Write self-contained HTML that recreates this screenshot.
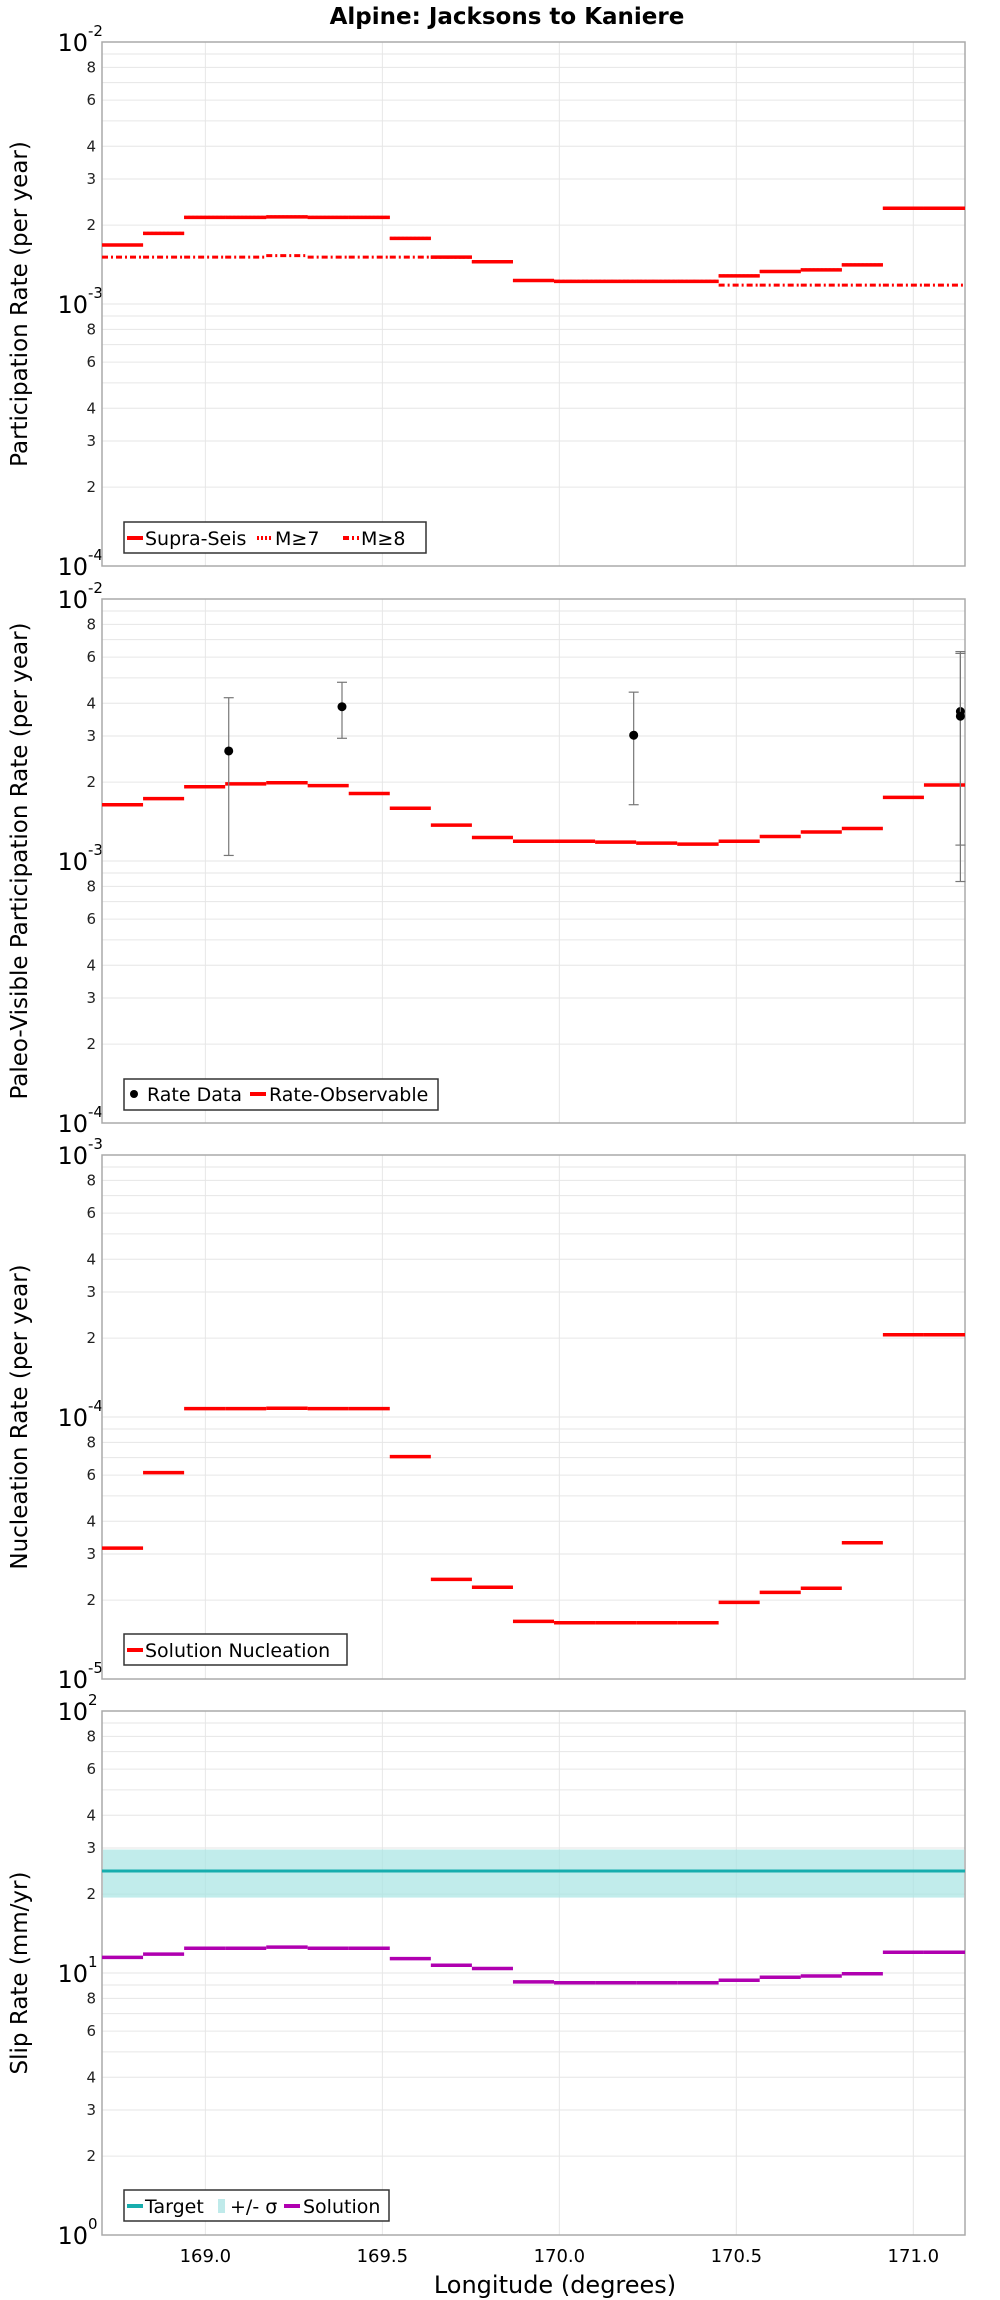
<!DOCTYPE html>
<html><head><meta charset="utf-8"><style>
html,body{margin:0;padding:0;background:#fff;}
svg{display:block;font-family:"DejaVu Sans","Liberation Sans",sans-serif;}
</style></head><body>
<svg id="chart" width="1000" height="2300" viewBox="0 0 1000 2300" xmlns="http://www.w3.org/2000/svg">
<text x="507" y="24" font-size="23" font-weight="bold" text-anchor="middle">Alpine: Jacksons to Kaniere</text>
<g id="layer"></g>
</svg>
<script>
// ---- data ----
const binEdges = [168.708,168.824,168.940,169.056,169.172,169.289,169.405,169.521,169.637,169.753,169.869,169.985,170.101,170.217,170.333,170.450,170.566,170.682,170.798,170.914,171.030,171.146];
const xTicks = [169.0,169.5,170.0,170.5,171.0];
const xTickLabels = ["169.0","169.5","170.0","170.5","171.0"];
const supraSeis = [1.68e-3,1.86e-3,2.14e-3,2.14e-3,2.15e-3,2.14e-3,2.14e-3,1.78e-3,1.51e-3,1.45e-3,1.23e-3,1.22e-3,1.22e-3,1.22e-3,1.22e-3,1.28e-3,1.33e-3,1.35e-3,1.41e-3,2.32e-3,2.32e-3];
const m7 = [1.68e-3,1.86e-3,2.14e-3,2.14e-3,2.15e-3,2.14e-3,2.14e-3,1.78e-3,1.51e-3,1.45e-3,1.23e-3,1.22e-3,1.22e-3,1.22e-3,1.22e-3,1.28e-3,1.33e-3,1.35e-3,1.41e-3,2.32e-3,2.32e-3];
const m8 = [1.51e-3,1.51e-3,1.51e-3,1.51e-3,1.53e-3,1.51e-3,1.51e-3,1.51e-3,1.51e-3,1.45e-3,1.23e-3,1.22e-3,1.22e-3,1.22e-3,1.22e-3,1.18e-3,1.18e-3,1.18e-3,1.18e-3,1.18e-3,1.18e-3];
const rateObservable = [1.64e-3,1.73e-3,1.92e-3,1.97e-3,1.99e-3,1.94e-3,1.81e-3,1.59e-3,1.37e-3,1.23e-3,1.19e-3,1.19e-3,1.18e-3,1.17e-3,1.16e-3,1.19e-3,1.24e-3,1.29e-3,1.33e-3,1.75e-3,1.95e-3];
const dataLon = [169.066,169.386,170.210,171.133,171.133];
const dataRate = [2.63e-3,3.88e-3,3.02e-3,3.72e-3,3.57e-3];
const dataLow = [1.05e-3,2.94e-3,1.64e-3,1.15e-3,8.35e-4];
const dataHigh = [4.20e-3,4.81e-3,4.41e-3,6.30e-3,6.20e-3];
const nucleation = [3.16e-5,6.13e-5,1.076e-4,1.076e-4,1.08e-4,1.076e-4,1.076e-4,7.06e-5,2.40e-5,2.24e-5,1.66e-5,1.64e-5,1.64e-5,1.64e-5,1.64e-5,1.96e-5,2.14e-5,2.22e-5,3.31e-5,2.06e-4,2.06e-4];
const targetSlip = [24.5];
const targetLow = [19.4];
const targetHigh = [29.6];
const slipSolution = [11.47,11.8,12.43,12.43,12.56,12.43,12.43,11.35,10.71,10.4,9.25,9.18,9.18,9.18,9.18,9.38,9.63,9.74,9.93,12.0,12.0];

// ---- layout ----
const NS = "http://www.w3.org/2000/svg";
const layer = document.getElementById("layer");
const X0 = 102, X1 = 965, H = 524;
const panelTops = [42, 599, 1155, 1711];
const lonMin = 168.708, lonMax = 171.146;
function xs(lon){ return X0 + (lon - lonMin) / (lonMax - lonMin) * (X1 - X0); }
function mk(tag, attrs, parent){ const e = document.createElementNS(NS, tag); for (const k in attrs) e.setAttribute(k, attrs[k]); (parent||layer).appendChild(e); return e; }

function makeY(top, lo, hi){ return v => top + H - (Math.log10(v) - lo) / (hi - lo) * H; }

function drawPanel(idx, lo, hi, title, name){
  const top = panelTops[idx];
  const g = mk("g", {});
  
  
  const y = makeY(top, lo, hi);
  for (let d = lo; d < hi; d++){
    for (let m = 1; m <= 9; m++){
      const v = m * Math.pow(10, d);
      const yy = y(v);
      const gl = mk("line", {x1:X0, x2:X1, y1:yy, y2:yy, stroke:"#e6e6e6", "stroke-width":1}, g);
      
      
      if (m === 1){
        const t = mk("text", {x:88, y:yy+9, "font-size":24, "text-anchor":"end"}, g);
        t.textContent = "10";
        
        
        const s = mk("text", {x:88, y:yy-6, "font-size":15, "text-anchor":"start"}, g);
        s.textContent = String(d);
        
        
      } else if ([2,3,4,6,8].includes(m)){
        const t = mk("text", {x:96, y:yy+5, "font-size":15, "text-anchor":"end", fill:"#222"}, g);
        t.textContent = String(m);
        
        
      }
    }
  }
  const tt = mk("text", {x:88, y:top+9, "font-size":24, "text-anchor":"end"}, g);
  tt.textContent = "10";
  
  
  const ts = mk("text", {x:88, y:top-6, "font-size":15}, g);
  ts.textContent = String(hi);
  
  
  xTicks.forEach(v => {
    const gl = mk("line", {x1:xs(v), x2:xs(v), y1:top, y2:top+H, stroke:"#e6e6e6", "stroke-width":1}, g);
    
    
  });
  const fr = mk("rect", {x:X0, y:top, width:X1-X0, height:H, fill:"none", stroke:"#aaa", "stroke-width":1.5}, g);
  
  
  const cy = top + H/2;
  const at = mk("text", {x:0, y:0, "font-size":23, "text-anchor":"middle", transform:"translate(27," + cy + ") rotate(-90)"}, g);
  at.textContent = title;
  
  
  return {g, y};
}

function steps(g, y, vals, color, name, dash, width){
  vals.forEach((v, i) => {
    const l = mk("line", {x1:xs(binEdges[i]), x2:xs(binEdges[i+1]), y1:y(v), y2:y(v), stroke:color, "stroke-width":width||3.5}, g);
    if (dash) l.setAttribute("stroke-dasharray", dash);
    
    
  });
}

function legend(g, x, yTop, w, name){
  const r = mk("rect", {x:x, y:yTop, width:w, height:31, fill:"#fff", stroke:"#333", "stroke-width":1.5}, g);
  
  
}
function legText(g, x, y, s){
  const t = mk("text", {x:x, y:y, "font-size":19}, g);
  t.textContent = s;
  
  
}
function legLine(g, x, y, color, dash, w){
  const l = mk("line", {x1:x, x2:x+w, y1:y, y2:y, stroke:color, "stroke-width":4}, g);
  if (dash) l.setAttribute("stroke-dasharray", dash);
  
  
}

// Panel 1
{
  const {g, y} = drawPanel(0, -4, -2, "Participation Rate (per year)", "participation");
  steps(g, y, supraSeis, "#ff0000", "supra-seis");
  steps(g, y, m7, "#ff0000", "m7", "2,2", 3);
  steps(g, y, m8, "#ff0000", "m8", "6,3,2,3", 3);
  legend(g, 124, 522, 302, "legend");
  const ly = 538;
  legLine(g, 127, ly, "#ff0000", null, 16); legText(g, 145, ly+7, "Supra-Seis");
  legLine(g, 257, ly, "#ff0000", "2,2", 16); legText(g, 275, ly+7, "M≥7");
  legLine(g, 343, ly, "#ff0000", "6,3,2,3", 16); legText(g, 361, ly+7, "M≥8");
}
// Panel 2
{
  const {g, y} = drawPanel(1, -4, -2, "Paleo-Visible Participation Rate (per year)", "paleo-visible");
  steps(g, y, rateObservable, "#ff0000", "rate-observable");
  dataLon.forEach((lon, i) => {
    const x = xs(lon);
    const eb = mk("g", {}, g);
    
    
    mk("line", {x1:x, x2:x, y1:y(dataHigh[i]), y2:y(dataLow[i]), stroke:"#777", "stroke-width":1.2}, eb);
    mk("line", {x1:x-5, x2:x+5, y1:y(dataHigh[i]), y2:y(dataHigh[i]), stroke:"#777", "stroke-width":1.2}, eb);
    mk("line", {x1:x-5, x2:x+5, y1:y(dataLow[i]), y2:y(dataLow[i]), stroke:"#777", "stroke-width":1.2}, eb);
    const c = mk("circle", {cx:x, cy:y(dataRate[i]), r:4.5, fill:"#000"}, g);
    
    
  });
  legend(g, 124, 1079, 314, "legend");
  const ly = 1094;
  const c = mk("circle", {cx:134, cy:ly, r:4, fill:"#000"}, g);
  
  
  legText(g, 147, ly+7, "Rate Data");
  legLine(g, 250, ly, "#ff0000", null, 16); legText(g, 269, ly+7, "Rate-Observable");
}
// Panel 3
{
  const {g, y} = drawPanel(2, -5, -3, "Nucleation Rate (per year)", "nucleation");
  steps(g, y, nucleation, "#ff0000", "solution-nucleation");
  legend(g, 124, 1634, 223, "legend");
  const ly = 1650;
  legLine(g, 127, ly, "#ff0000", null, 16); legText(g, 145, ly+7, "Solution Nucleation");
}
// Panel 4
{
  const {g, y} = drawPanel(3, 0, 2, "Slip Rate (mm/yr)", "slip-rate");
  const band = mk("rect", {x:X0+1, y:y(targetHigh[0]), width:X1-X0-2, height:y(targetLow[0])-y(targetHigh[0]), fill:"#a6e4e2", "fill-opacity":0.7}, g);
  
  
  const tl = mk("line", {x1:X0, x2:X1, y1:y(targetSlip[0]), y2:y(targetSlip[0]), stroke:"#17adad", "stroke-width":3}, g);
  
  
  steps(g, y, slipSolution, "#b000b0", "solution");
  legend(g, 124, 2190, 265, "legend");
  const ly = 2206;
  legLine(g, 127, ly, "#17adad", null, 16); legText(g, 145, ly+7, "Target");
  const sw = mk("rect", {x:218, y:ly-7, width:7, height:14, fill:"#bfeaea"}, g);
  
  
  legText(g, 230, ly+7, "+/- σ");
  legLine(g, 284, ly, "#b000b0", null, 16); legText(g, 303, ly+7, "Solution");
}
// x axis
xTicks.forEach((v, i) => {
  const t = mk("text", {x:xs(v), y:2262, "font-size":18, "text-anchor":"middle"});
  t.textContent = xTickLabels[i];
  
  
});
const xt = mk("text", {x:555, y:2293, "font-size":24, "text-anchor":"middle"});
xt.textContent = "Longitude (degrees)";


</script>
</body></html>
